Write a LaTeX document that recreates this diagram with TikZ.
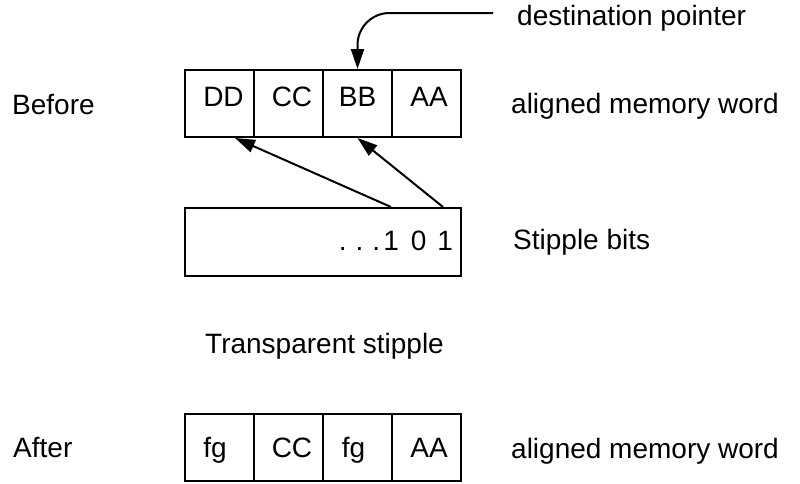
\documentclass[tikz,border=0pt]{standalone}
\usepackage{fontspec}
\setmainfont{Liberation Sans}
\usetikzlibrary{arrows.meta}
\begin{document}
\begin{tikzpicture}[x=1pt,y=-1pt,
  every node/.style={font=\fontsize{28pt}{34pt}\selectfont, inner sep=0pt},
  cell/.style={draw, line width=2pt, minimum width=69pt, minimum height=67pt},
  toprow/.style={cell, text height=12.5pt, text depth=7.5pt},
  botrow/.style={cell, text height=20pt, text depth=0pt},
  lbl/.style={anchor=base west},
  ptr/.style={line width=2pt, -{Triangle[length=20pt,width=13pt]}}]
\useasboundingbox (0,0) rectangle (800,483);
% labels
\node[lbl] (before) at (12,114) {Before};
\node[lbl] (after) at (13,457) {After};
\node[lbl] (amw1) at (511,113) {aligned memory word};
\node[lbl] (amw2) at (511,458) {aligned memory word};
\node[lbl] (dest) at (517,25) {destination pointer};
\node[lbl] (sbits) at (513,249) {Stipple bits};
\node[lbl] (trans) at (205,353) {Transparent stipple};
% top row
\node[toprow] (b1) at (219.5,103.5) {\hspace*{8pt}DD};
\node[toprow] (b2) at (288.5,103.5) {\hspace*{7pt}CC};
\node[toprow] (b3) at (357.5,103.5) {BB};
\node[toprow] (b4) at (426.5,103.5) {\hspace*{5pt}AA};
% stipple
\node[draw, line width=2pt, minimum width=276pt, minimum height=68pt,
      text width=260pt, align=right, inner xsep=8pt,
      text height=20pt, text depth=4pt] (stip) at (323,242)
      {.\hspace{9pt}.\hspace{9pt}.\hspace{3pt}1\hspace{12pt}0\hspace{11pt}1};
% bottom row
\node[botrow] (a1) at (219.5,447.5) {fg\hspace*{9pt}};
\node[botrow] (a2) at (288.5,447.5) {\hspace*{7pt}CC};
\node[botrow] (a3) at (357.5,447.5) {fg\hspace*{8pt}};
\node[botrow] (a4) at (426.5,447.5) {\hspace*{5pt}AA};
% connectors
\coordinate (dpstart) at (493,13);
\draw[ptr, rounded corners=32pt] (dpstart) -| (b3.north);
\draw[ptr] ([xshift=68pt]stip.north) -- ([xshift=15.5pt]b1.south);
\draw[ptr] ([xshift=120pt]stip.north) -- (b3.south);
\end{tikzpicture}
\end{document}
